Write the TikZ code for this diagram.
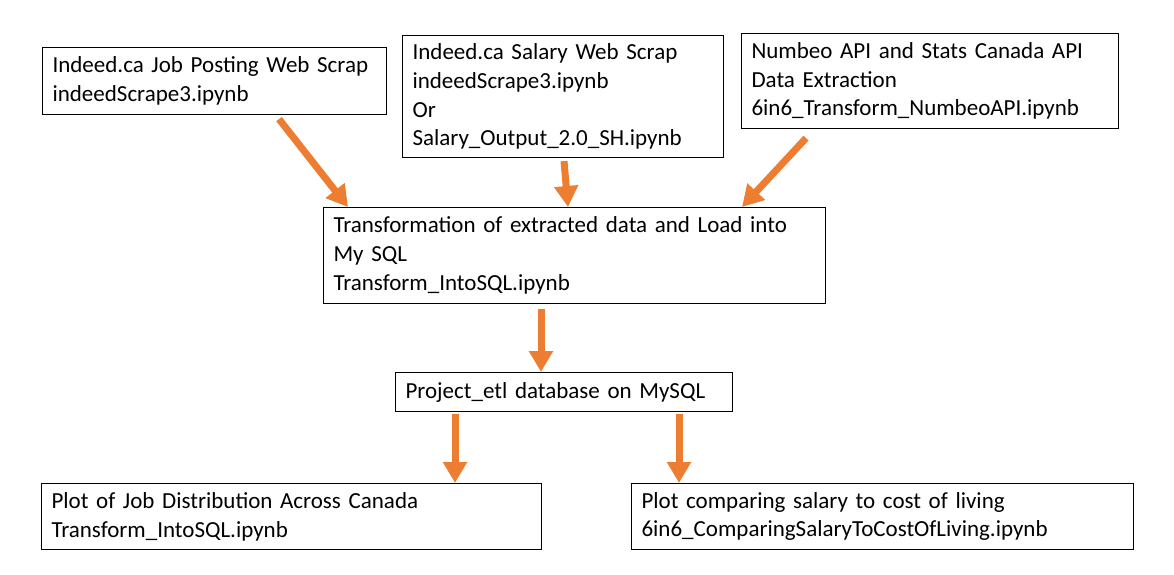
\documentclass[tikz,border=0pt]{standalone}
\usepackage{fontspec}
\setmainfont{Carlito}
\usetikzlibrary{arrows.meta}
\definecolor{flowOrange}{RGB}{237,125,49}
\tikzset{
  stage/.style={draw, line width=1.1pt, rectangle, anchor=north west, align=left,
    inner xsep=10pt, inner ysep=0pt, font=\fontsize{23}{28.7}\selectfont},
  flow/.style={draw=flowOrange, line width=7pt,
    -{Triangle[width=23pt,length=21pt]}, fill=flowOrange}
}
\begin{document}
\begin{tikzpicture}[x=1pt,y=-1pt]
  \useasboundingbox[fill=white] (0,0) rectangle (1174,574);
  \node[stage, text width=324pt, minimum height=67pt] (jobs) at (42,47)
    {Indeed.ca Job Posting Web Scrap\\indeedScrape3.ipynb};
  \node[stage, text width=301pt, minimum height=122pt] (salary) at (402,35)
    {Indeed.ca Salary Web Scrap\\indeedScrape3.ipynb\\Or\\Salary\_Output\_2.0\_SH.ipynb};
  \node[stage, text width=357pt, minimum height=95pt] (numbeo) at (741,33)
    {Numbeo API and Stats Canada API\\Data Extraction\\6in6\_Transform\_NumbeoAPI.ipynb};
  \node[stage, text width=482pt, minimum height=96pt] (transform) at (323,207)
    {Transformation of extracted data and Load into\\My SQL\\Transform\_IntoSQL.ipynb};
  \node[stage, text width=317pt, minimum height=39pt] (db) at (395,372)
    {Project\_etl database on MySQL};
  \node[stage, text width=480pt, minimum height=66pt] (plotjobs) at (41,483)
    {Plot of Job Distribution Across Canada\\Transform\_IntoSQL.ipynb};
  \node[stage, text width=482pt, minimum height=66pt] (plotcost) at (631,483)
    {Plot comparing salary to cost of living\\6in6\_ComparingSalaryToCostOfLiving.ipynb};
  % arrows
  \draw[flow] ([xshift=237pt,yshift=-4pt]jobs.south west) -- ([xshift=25pt]transform.north west);
  \draw[flow] ([xshift=162pt,yshift=-3pt]salary.south west) -- ([xshift=245pt]transform.north west);
  \draw[flow] ([xshift=65pt,yshift=-9pt]numbeo.south west) -- ([xshift=419pt]transform.north west);
  \draw[flow] ([xshift=218pt,yshift=-5pt]transform.south west) -- ([xshift=146pt]db.north west);
  \draw[flow] ([xshift=60pt,yshift=-2pt]db.south west) -- ([xshift=414pt]plotjobs.north west);
  \draw[flow] ([xshift=284pt,yshift=-2pt]db.south west) -- ([xshift=48pt]plotcost.north west);
\end{tikzpicture}
\end{document}
